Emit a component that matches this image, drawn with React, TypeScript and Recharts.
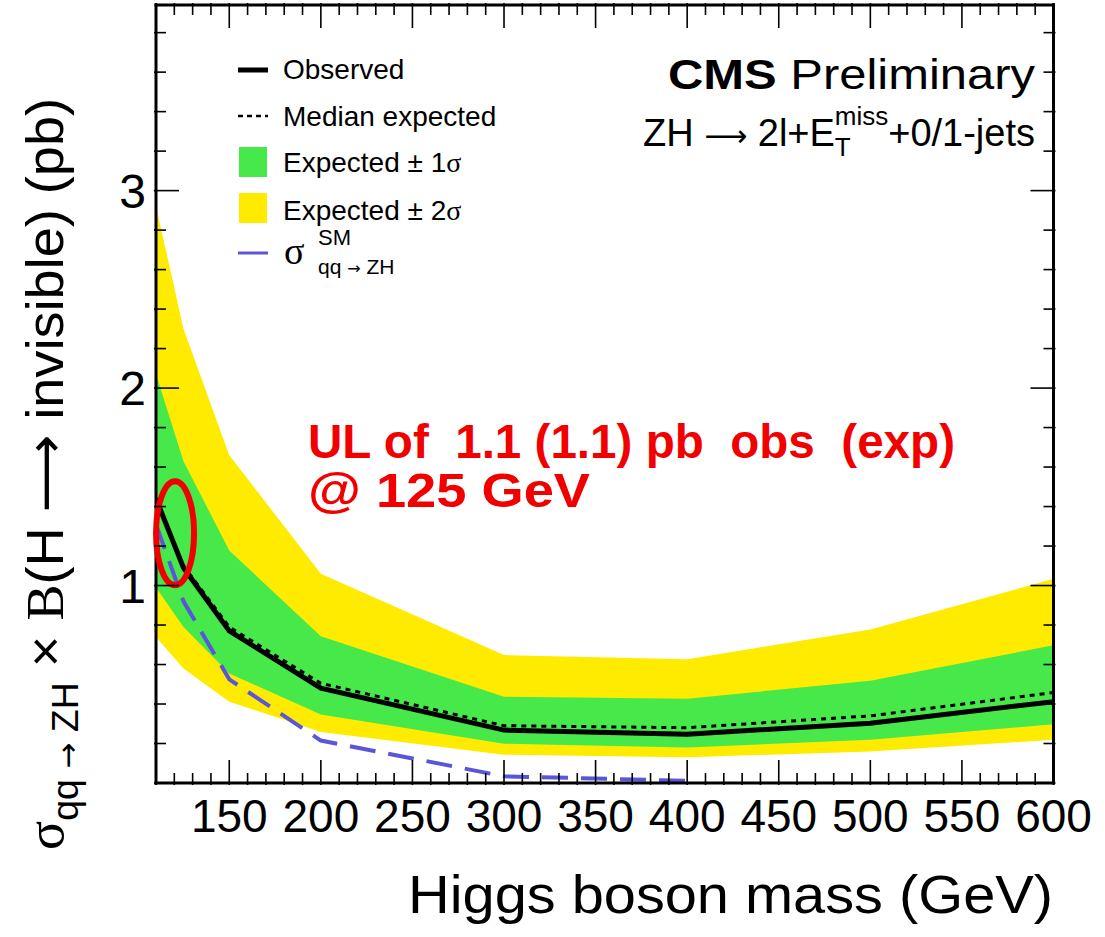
import React from 'react';
import {
  ComposedChart,
  Area,
  Line,
  XAxis,
  YAxis,
  ReferenceDot,
} from 'recharts';

// Higgs mass points (GeV)
const masses = [110, 125, 150, 200, 300, 400, 500, 600];
// 95% CL upper limits (pb)
const observed = [1.44, 1.09, 0.77, 0.48, 0.268, 0.247, 0.303, 0.412];
const median = [1.43, 1.1, 0.79, 0.505, 0.29, 0.28, 0.34, 0.458];
const oneSigmaLow = [0.99, 0.79, 0.555, 0.347, 0.199, 0.18, 0.219, 0.297];
const oneSigmaHigh = [2.07, 1.63, 1.177, 0.743, 0.437, 0.427, 0.518, 0.697];
const twoSigmaLow = [0.74, 0.58, 0.412, 0.258, 0.143, 0.13, 0.16, 0.219];
const twoSigmaHigh = [2.92, 2.3, 1.66, 1.06, 0.648, 0.627, 0.777, 1.034];
// SM qq -> ZH cross section (pb)
const smXsec = [1.31, 0.92, 0.525, 0.215, 0.034, 0.011, null, null];

const xLabels = [150, 200, 250, 300, 350, 400, 450, 500, 550, 600];
const yLabels = [1, 2, 3];

const X_MIN = 110;
const X_MAX = 600;
const Y_MAX = 3.94;

const data = masses.map((m, i) => ({
  mass: m,
  observed: observed[i],
  median: median[i],
  band1: [oneSigmaLow[i], oneSigmaHigh[i]],
  band2: [twoSigmaLow[i], twoSigmaHigh[i]],
  sm: smXsec[i],
}));

// minor ticks every 10 GeV / 0.2 pb
const xTicks: number[] = [];
for (let m = X_MIN; m <= X_MAX; m += 10) xTicks.push(m);
const yTicks: number[] = [];
for (let i = 0; i <= 19; i++) yTicks.push(Math.round(i * 20) / 100);

const FONT = '"Liberation Sans", Arial, Helvetica, sans-serif';
const SERIF = '"Liberation Serif", "DejaVu Serif", serif';
const ARROW = '"DejaVu Sans", sans-serif';
const MAJOR = 25;
const MINOR = 12;

const isMajorX = (v: number) => xLabels.includes(v);
const isMajorY = (v: number) => Math.abs(v - Math.round(v)) < 1e-6;

const BottomTick = (props: any) => {
  const { x, y, payload } = props;
  const major = isMajorX(payload.value);
  return (
    <g>
      <line x1={x} x2={x} y1={y} y2={y - (major ? MAJOR : MINOR)} stroke="#000" strokeWidth={1.6} />
      {major && (
        <text x={x} y={y + 47} textAnchor="middle" fontSize={46} fontFamily={FONT} fill="#000">
          {payload.value}
        </text>
      )}
    </g>
  );
};

const TopTick = (props: any) => {
  const { x, y, payload } = props;
  const major = isMajorX(payload.value);
  return <line x1={x} x2={x} y1={y} y2={y + (major ? MAJOR : MINOR)} stroke="#000" strokeWidth={1.6} />;
};

const LeftTick = (props: any) => {
  const { x, y, payload } = props;
  const v = payload.value;
  const major = isMajorY(v);
  return (
    <g>
      <line x1={x} x2={x + (major ? MAJOR : MINOR)} y1={y} y2={y} stroke="#000" strokeWidth={1.6} />
      {major && yLabels.includes(Math.round(v)) && (
        <text x={x - 8} y={y + 17} textAnchor="end" fontSize={48} fontFamily={FONT} fill="#000">
          {Math.round(v)}
        </text>
      )}
    </g>
  );
};

const RightTick = (props: any) => {
  const { x, y, payload } = props;
  const major = isMajorY(payload.value);
  return <line x1={x} x2={x - (major ? MAJOR : MINOR)} y1={y} y2={y} stroke="#000" strokeWidth={1.6} />;
};

const RedEllipse = (props: any) => {
  const { cx, cy } = props;
  return <ellipse cx={cx} cy={cy} rx={19} ry={52} fill="none" stroke="#F20000" strokeWidth={6} />;
};

const axisLine = { stroke: '#000', strokeWidth: 3, strokeLinecap: 'square' as const };

export default function App() {
  return (
    <div style={{ position: 'absolute', left: 0, top: 0, width: 1105, height: 937, background: '#fff' }}>
      <ComposedChart
        width={1105}
        height={937}
        data={data}
        margin={{ top: 4, right: 50.5, bottom: 153, left: 155 }}
      >
        <XAxis
          dataKey="mass"
          type="number"
          domain={[X_MIN, X_MAX]}
          ticks={xTicks}
          interval={0}
          height={1}
          tickSize={0}
          tickLine={false}
          axisLine={axisLine}
          tick={<BottomTick />}
          allowDataOverflow
        />
        <XAxis
          xAxisId="top"
          orientation="top"
          dataKey="mass"
          type="number"
          domain={[X_MIN, X_MAX]}
          ticks={xTicks}
          interval={0}
          height={1}
          tickSize={0}
          tickLine={false}
          axisLine={axisLine}
          tick={<TopTick />}
          allowDataOverflow
        />
        <YAxis
          type="number"
          domain={[0, Y_MAX]}
          ticks={yTicks}
          interval={0}
          width={1}
          tickSize={0}
          tickLine={false}
          axisLine={axisLine}
          tick={<LeftTick />}
          allowDataOverflow
        />
        <YAxis
          yAxisId="right"
          orientation="right"
          type="number"
          domain={[0, Y_MAX]}
          ticks={yTicks}
          interval={0}
          width={1}
          tickSize={0}
          tickLine={false}
          axisLine={axisLine}
          tick={<RightTick />}
          allowDataOverflow
        />

        <Area dataKey="band2" type="linear" stroke="none" fill="#FFEB00" fillOpacity={1} isAnimationActive={false} />
        <Area dataKey="band1" type="linear" stroke="none" fill="#46E84A" fillOpacity={1} isAnimationActive={false} />
        <Line
          dataKey="sm"
          type="linear"
          stroke="#5B55DA"
          strokeWidth={4}
          strokeDasharray="26 13"
          dot={false}
          isAnimationActive={false}
        />
        <Line
          dataKey="median"
          type="linear"
          stroke="#000"
          strokeWidth={3}
          strokeDasharray="5 5"
          dot={false}
          isAnimationActive={false}
        />
        <Line dataKey="observed" type="linear" stroke="#000" strokeWidth={5} dot={false} isAnimationActive={false} />

        <ReferenceDot x={120.4} y={1.265} r={1} shape={<RedEllipse />} />
      </ComposedChart>

      {/* annotations */}
      <svg
        width={1105}
        height={937}
        style={{ position: 'absolute', left: 0, top: 0, pointerEvents: 'none' }}
      >
        {/* legend */}
        <g fontFamily={FONT} fontSize={28} fill="#000">
          <line x1={238} x2={268} y1={70} y2={70} stroke="#000" strokeWidth={5} />
          <text x={283} y={79}>Observed</text>
          <line x1={238} x2={268} y1={116} y2={116} stroke="#000" strokeWidth={2.5} strokeDasharray="5 4" />
          <text x={283} y={126}>Median expected</text>
          <rect x={239} y={147} width={28} height={30} fill="#46E84A" />
          <text x={283} y={172}>
            Expected ± 1<tspan fontFamily={SERIF}>σ</tspan>
          </text>
          <rect x={239} y={193} width={28} height={30} fill="#FFEB00" />
          <text x={283} y={220}>
            Expected ± 2<tspan fontFamily={SERIF}>σ</tspan>
          </text>
          <line x1={238} x2={268} y1={253} y2={253} stroke="#5B55DA" strokeWidth={3} />
          <text x={284} y={264} fontFamily={SERIF} fontSize={38}>σ</text>
          <text x={318} y={245} fontSize={22}>SM</text>
          <text x={318} y={274} fontSize={21}>
            qq <tspan fontFamily={ARROW} fontSize={16}>→</tspan> ZH
          </text>
        </g>

        {/* CMS label */}
        <text
          x={1035}
          y={89}
          textAnchor="end"
          fontFamily={FONT}
          fontSize={43}
          fill="#000"
          textLength={367}
          lengthAdjust="spacingAndGlyphs"
        >
          <tspan fontWeight="bold">CMS</tspan> Preliminary
        </text>
        <text x={1035} y={146} textAnchor="end" fontFamily={FONT} fontSize={38} fill="#000">
          ZH <tspan fontFamily={ARROW} fontSize={30}>⟶</tspan> 2l+E
          <tspan fontSize={26} dy={10}>T</tspan>
          <tspan fontSize={26} dx={-16} dy={-31}>miss</tspan>
          <tspan dy={21}>+0/1-jets</tspan>
        </text>

        {/* red annotation */}
        <g fontFamily={FONT} fontWeight="bold" fill="#F20000" fontSize={48}>
          <text x={308} y={458} textLength={647} lengthAdjust="spacingAndGlyphs" xmlSpace="preserve">
            {'UL of  1.1 (1.1) pb  obs  (exp)'}
          </text>
          <text x={308} y={507} textLength={282} lengthAdjust="spacingAndGlyphs" xmlSpace="preserve">
            {'@ 125 GeV'}
          </text>
        </g>

        {/* axis titles */}
        <text
          x={1053}
          y={913}
          textAnchor="end"
          fontFamily={FONT}
          fontSize={54}
          fill="#000"
          textLength={645}
          lengthAdjust="spacingAndGlyphs"
        >
          Higgs boson mass (GeV)
        </text>
        <text
          transform="translate(63, 474) rotate(-90)"
          textAnchor="middle"
          fontFamily={FONT}
          fontSize={52}
          fill="#000"
          textLength={752}
          lengthAdjust="spacingAndGlyphs"
        >
          <tspan fontFamily={SERIF}>σ</tspan>
          <tspan fontSize={36} dy={15}>
            qq <tspan fontFamily={ARROW} fontSize={30}>→</tspan> ZH
          </tspan>
          <tspan dy={-15}> × </tspan>
          <tspan fontFamily={SERIF}>B</tspan>
          <tspan>(H </tspan>
          <tspan fontFamily={ARROW}>⟶</tspan>
          <tspan> invisible) (pb)</tspan>
        </text>
      </svg>
    </div>
  );
}
